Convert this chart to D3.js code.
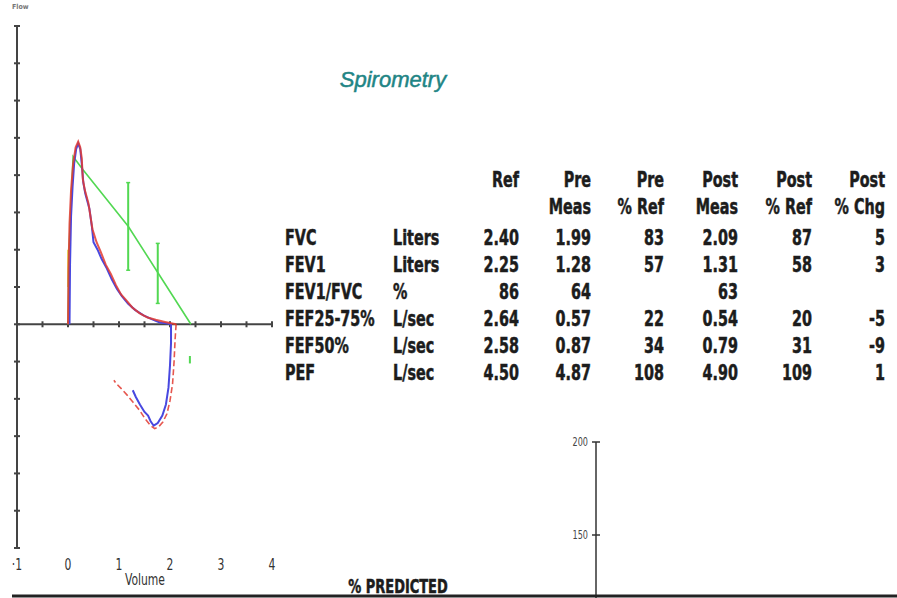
<!DOCTYPE html>
<html>
<head>
<meta charset="utf-8">
<script src="https://cdn.jsdelivr.net/npm/d3@7"></script>
<style>
  body { margin: 0; background: #fff; }
  svg { display: block; }
  .narrow { font-family: "Liberation Sans Narrow", "Arial Narrow", "DejaVu Sans Condensed", sans-serif; font-weight: bold; fill: #1c1c1c; }
</style>
</head>
<body>
<script>
"use strict";

// flow-volume loop, volume in L, flow in L/sec
var preExpVol  = [0, 0.01, 0.03, 0.06, 0.10, 0.15, 0.20, 0.24, 0.27, 0.29, 0.33, 0.40, 0.48, 0.56, 0.64, 0.74, 0.84, 0.94, 1.04, 1.14, 1.26, 1.40, 1.56, 1.72, 1.88, 2.02, 2.12];
var preExpFlow = [0, 1.5, 2.7, 3.6, 4.3, 4.75, 4.9, 4.75, 4.45, 3.9, 3.6, 3.25, 2.55, 2.2, 1.95, 1.6, 1.35, 1.05, 0.8, 0.65, 0.45, 0.3, 0.18, 0.12, 0.07, 0.03, 0];
var preInsVol  = [2.12, 2.10, 2.08, 2.05, 2.00, 1.94, 1.86, 1.78, 1.70, 1.62, 1.52, 1.40, 1.28, 1.16, 1.04, 0.94, 0.90];
var preInsFlow = [0, -0.4, -1.0, -1.6, -2.05, -2.4, -2.62, -2.75, -2.8, -2.72, -2.55, -2.3, -2.1, -1.9, -1.72, -1.58, -1.5];

var postExpVol  = [0.03, 0.04, 0.06, 0.09, 0.12, 0.16, 0.20, 0.24, 0.27, 0.30, 0.34, 0.42, 0.47, 0.50, 0.58, 0.66, 0.76, 0.86, 0.96, 1.06, 1.18, 1.32, 1.48, 1.64, 1.80, 1.96, 2.02];
var postExpFlow = [0, 1.6, 2.9, 3.7, 4.3, 4.7, 4.85, 4.7, 4.3, 3.8, 3.5, 3.1, 2.6, 2.2, 2.0, 1.75, 1.5, 1.2, 0.95, 0.75, 0.55, 0.38, 0.24, 0.14, 0.05, 0.02, 0];
var postInsVol  = [2.02, 2.02, 2.00, 1.97, 1.92, 1.85, 1.76, 1.68, 1.62, 1.57, 1.50, 1.41, 1.33, 1.27];
var postInsFlow = [0, -0.5, -1.1, -1.7, -2.15, -2.45, -2.65, -2.72, -2.6, -2.45, -2.35, -2.15, -1.95, -1.77];

var predVol  = [0, 0.02, 0.10, 0.29, 1.18, 1.76, 2.41];
var predFlow = [0, 2.0, 4.5, 4.15, 2.63, 1.39, 0];
var predBarVol = [1.18, 1.76];
var predBarLo  = [1.45, 0.56];
var predBarHi  = [3.80, 2.17];

var volTicks = [-1, 0, 1, 2, 3, 4];
var pctTicks = [150, 200];

// results table
var params   = ["FVC", "FEV1", "FEV1/FVC", "FEF25-75%", "FEF50%", "PEF"];
var units    = ["Liters", "Liters", "%", "L/sec", "L/sec", "L/sec"];
var ref      = ["2.40", "2.25", "86", "2.64", "2.58", "4.50"];
var preMeas  = ["1.99", "1.28", "64", "0.57", "0.87", "4.87"];
var prePct   = ["83", "57", "", "22", "34", "108"];
var postMeas = ["2.09", "1.31", "63", "0.54", "0.79", "4.90"];
var postPct  = ["87", "58", "", "20", "31", "109"];
var postChg  = ["5", "3", "", "-5", "-9", "1"];
var head1    = ["Ref", "Pre", "Pre", "Post", "Post", "Post"];
var head2    = ["", "Meas", "% Ref", "Meas", "% Ref", "% Chg"];

var width = 897, height = 598;
var svg = d3.select("body").append("svg")
    .attr("width", width)
    .attr("height", height);

var x = d3.scaleLinear().domain([-1, 4]).range([17, 272]);
var y = d3.scaleLinear().domain([-6, 8]).range([548, 26]);

function pts(vs, fs) { return vs.map(function(v, i) { return [v, fs[i]]; }); }
var line = d3.line().x(function(d) { return x(d[0]); }).y(function(d) { return y(d[1]); });

// condensed text: no narrow face installed, so squeeze horizontally
function label(g, tx, ty, txt, size, anchor, sx) {
  return g.append("text").attr("class", "narrow")
      .attr("transform", "translate(" + tx + "," + ty + ") scale(" + (sx || 0.76) + ",1)")
      .attr("text-anchor", anchor || "start")
      .style("font-size", size + "px")
      .text(txt);
}

// small mark at top left (remains of a cut-off label)
label(svg, 12, 9, "Flow", 7, "start", 1).style("fill", "#777");

// axes
var axisCol = "#444";
svg.append("line").attr("x1", x(-1)).attr("x2", x(-1)).attr("y1", y(8)).attr("y2", y(-6))
    .style("stroke", axisCol).style("stroke-width", 2);
svg.selectAll(".yt").data(d3.range(-6, 9)).enter().append("line")
    .attr("x1", x(-1) - 3).attr("x2", x(-1) + 3)
    .attr("y1", function(d) { return y(d); }).attr("y2", function(d) { return y(d); })
    .style("stroke", axisCol).style("stroke-width", 2);

svg.append("line").attr("x1", x(-1)).attr("x2", x(4) + 1).attr("y1", y(0)).attr("y2", y(0))
    .style("stroke", axisCol).style("stroke-width", 2);
svg.selectAll(".xt").data(d3.range(-1, 4.01, 0.5)).enter().append("line")
    .attr("x1", function(d) { return x(d); }).attr("x2", function(d) { return x(d); })
    .attr("y1", y(0) - 3).attr("y2", y(0) + 3)
    .style("stroke", axisCol).style("stroke-width", 2);

volTicks.forEach(function(d) {
  label(svg, x(d), 570, d < 0 ? "·1" : String(d), 15, "middle", 0.8)
      .style("font-weight", "normal").style("fill", "#333");
});
label(svg, 145, 585, "Volume", 15, "middle", 0.8)
    .style("font-weight", "normal").style("fill", "#333");

// predicted
var green = "#52d852";
svg.append("line").attr("x1", x(0)).attr("x2", x(0)).attr("y1", y(2.0)).attr("y2", y(1.0))
    .style("stroke", "#e8e060").style("stroke-width", 2);
svg.append("path").datum(pts(predVol, predFlow)).attr("d", line)
    .style("fill", "none").style("stroke", green).style("stroke-width", 1.6);
predBarVol.forEach(function(v, i) {
  svg.append("line").attr("x1", x(v)).attr("x2", x(v)).attr("y1", y(predBarLo[i])).attr("y2", y(predBarHi[i]))
      .style("stroke", green).style("stroke-width", 2);
  [predBarLo[i], predBarHi[i]].forEach(function(f) {
    svg.append("line").attr("x1", x(v) - 2).attr("x2", x(v) + 2).attr("y1", y(f)).attr("y2", y(f))
        .style("stroke", green).style("stroke-width", 1.5);
  });
});
svg.append("line").attr("x1", x(2.39)).attr("x2", x(2.39)).attr("y1", y(-0.85)).attr("y2", y(-1.05))
    .style("stroke", green).style("stroke-width", 2);

// post (blue)
var blue = "#4848e0", red = "#e23a30";
svg.append("path").datum(pts(postExpVol, postExpFlow).concat(pts(postInsVol, postInsFlow).slice(1)))
    .attr("d", line).style("fill", "none").style("stroke", blue).style("stroke-width", 2);

// pre (red)
svg.append("path").datum(pts(preExpVol, preExpFlow)).attr("d", line)
    .style("fill", "none").style("stroke", red).style("stroke-width", 2).style("opacity", 0.85);
svg.append("path").datum(pts(preInsVol, preInsFlow)).attr("d", line)
    .style("fill", "none").style("stroke", red).style("stroke-width", 1.6)
    .style("stroke-dasharray", "6,3").style("opacity", 0.85);

// title
svg.append("text").attr("x", 393).attr("y", 87).attr("text-anchor", "middle")
    .style("font-family", "'Liberation Sans', Arial, sans-serif").style("font-style", "italic")
    .style("font-size", "22px").style("fill", "#1f8585")
    .style("stroke", "#1f8585").style("stroke-width", 0.5)
    .text("Spirometry");

// table
var colRight = [519, 591, 664, 738, 812, 885];
var cols = [ref, preMeas, prePct, postMeas, postPct, postChg];
var rowY = d3.scaleLinear().domain([0, 5]).range([245, 380]);
var fs = 21;

function heavy(t) { return t.style("stroke", "#1c1c1c").style("stroke-width", 0.5); }
head1.forEach(function(d, i) { heavy(label(svg, colRight[i], 187, d, fs, "end")); });
head2.forEach(function(d, i) { if (d) heavy(label(svg, colRight[i], 214, d, fs, "end")); });
params.forEach(function(d, i) { heavy(label(svg, 285, rowY(i), d, fs, "start")); });
units.forEach(function(d, i) { heavy(label(svg, 393, rowY(i), d, fs, "start")); });
cols.forEach(function(col, c) {
  col.forEach(function(d, i) { if (d) heavy(label(svg, colRight[c], rowY(i), d, fs, "end")); });
});

// % predicted axis
var p = d3.scaleLinear().domain([150, 200]).range([535, 442]);
svg.append("line").attr("x1", 596).attr("x2", 596).attr("y1", p(200)).attr("y2", 598)
    .style("stroke", "#333").style("stroke-width", 1.5);
svg.selectAll(".pt").data(pctTicks).enter().append("line")
    .attr("x1", 592).attr("x2", 600)
    .attr("y1", function(d) { return p(d); }).attr("y2", function(d) { return p(d); })
    .style("stroke", "#333").style("stroke-width", 1.5);
pctTicks.forEach(function(d) {
  label(svg, 588, p(d) + 4, String(d), 12, "end", 0.75)
      .style("font-weight", "normal").style("fill", "#444");
});

heavy(label(svg, 398, 593, "% PREDICTED", 19, "middle", 0.76));

svg.append("line").attr("x1", 12).attr("x2", width).attr("y1", 596).attr("y2", 596)
    .style("stroke", "#222").style("stroke-width", 3);
</script>
</body>
</html>
